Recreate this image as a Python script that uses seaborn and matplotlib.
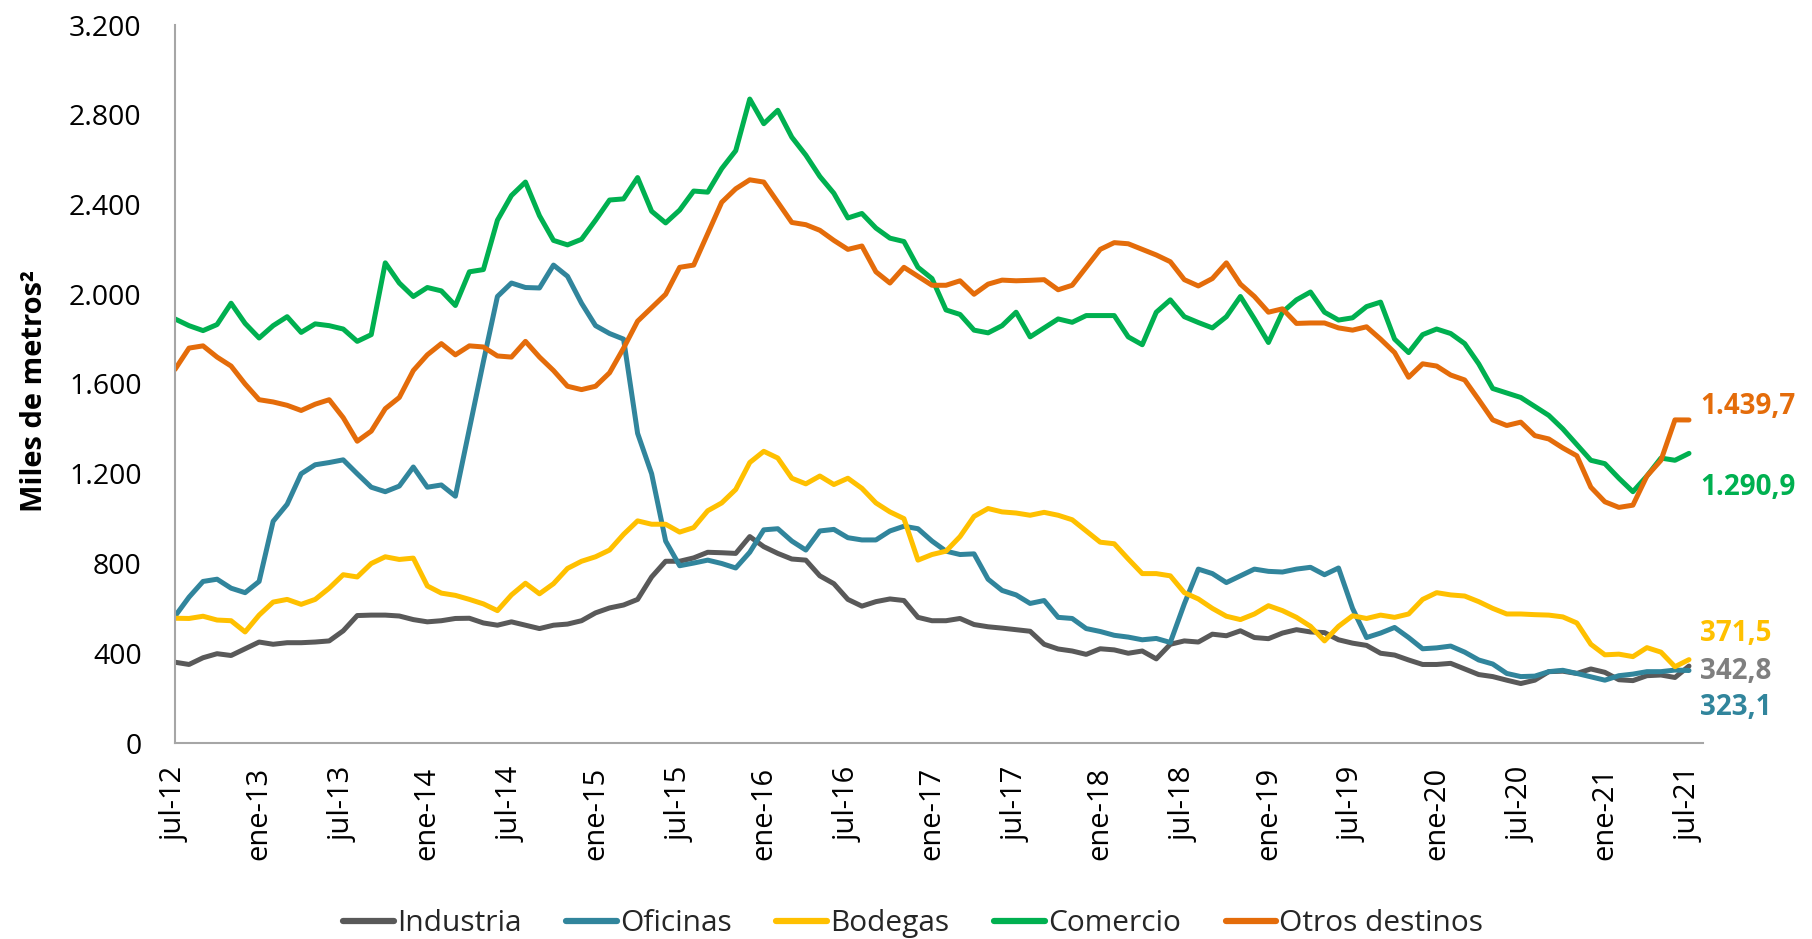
import numpy as np
import pandas as pd
import matplotlib
matplotlib.use("Agg")
import matplotlib.pyplot as plt
from matplotlib.ticker import FuncFormatter
import seaborn as sns

# meses: jul-12 ... jul-21 (109 meses)
tick_labels = ['jul-12', 'ene-13', 'jul-13', 'ene-14', 'jul-14', 'ene-15', 'jul-15',
               'ene-16', 'jul-16', 'ene-17', 'jul-17', 'ene-18', 'jul-18', 'ene-19',
               'jul-19', 'ene-20', 'jul-20', 'ene-21', 'jul-21']

industria = [360, 350, 380, 398, 390, 420, 450, 440, 447, 447, 450, 455, 500, 568, 570, 570,
             566, 550, 540, 545, 555, 556, 535, 525, 540, 525, 510, 525, 530, 545, 580, 602,
             615, 640, 740, 810, 810, 825, 850, 848, 845, 920, 875, 845, 820, 815, 745, 710,
             640, 610, 630, 642, 635, 560, 545, 545, 555, 528, 518, 512, 505, 498, 440, 419,
             410, 395, 420, 415, 400, 410, 375, 440, 455, 450, 485, 478, 500, 470, 465, 490,
             505, 495, 492, 460, 445, 435, 400, 392, 370, 350, 350, 355, 330, 305, 296, 280,
             265, 280, 318, 320, 310, 330, 315, 282, 278, 300, 303, 292, 342.8]

oficinas = [565, 650, 720, 730, 690, 670, 720, 988, 1064, 1200, 1240, 1250, 1262, 1200, 1140,
            1120, 1145, 1230, 1140, 1150, 1100, 1400, 1700, 1990, 2050, 2030, 2028, 2130, 2080,
            1960, 1860, 1825, 1800, 1380, 1200, 900, 790, 802, 815, 800, 780, 850, 950, 955,
            900, 860, 945, 952, 915, 905, 905, 945, 966, 955, 900, 855, 840, 843, 730, 680,
            660, 622, 635, 560, 555, 510, 497, 480, 472, 460, 466, 448, 620, 775, 755, 715,
            745, 775, 765, 762, 775, 783, 750, 780, 600, 470, 490, 515, 470, 420, 424, 432,
            405, 370, 352, 310, 296, 298, 318, 324, 310, 295, 280, 300, 307, 318, 318, 325,
            323.1]

bodegas = [556, 555, 565, 548, 545, 495, 570, 628, 640, 618, 640, 690, 750, 740, 800, 830,
           818, 824, 700, 668, 658, 640, 620, 590, 660, 712, 665, 710, 778, 810, 830, 860,
           930, 990, 975, 975, 940, 960, 1035, 1070, 1130, 1250, 1300, 1270, 1180, 1155, 1190,
           1152, 1180, 1135, 1070, 1030, 1000, 815, 840, 855, 920, 1010, 1045, 1030, 1025,
           1015, 1028, 1015, 995, 945, 895, 888, 820, 755, 755, 745, 670, 642, 600, 565, 550,
           575, 612, 590, 560, 520, 455, 520, 567, 555, 570, 560, 575, 640, 670, 660, 655,
           630, 600, 575, 575, 572, 570, 562, 535, 440, 393, 396, 385, 425, 405, 340, 371.5]

comercio = [1890, 1860, 1838, 1865, 1960, 1870, 1805, 1860, 1900, 1830, 1868, 1860, 1845, 1790,
            1820, 2140, 2050, 1990, 2030, 2015, 1950, 2100, 2110, 2330, 2440, 2500, 2350, 2240,
            2220, 2245, 2330, 2420, 2425, 2520, 2370, 2318, 2375, 2460, 2455, 2560, 2640, 2870,
            2760, 2820, 2700, 2620, 2525, 2450, 2340, 2360, 2295, 2250, 2235, 2120, 2070, 1930,
            1910, 1840, 1828, 1860, 1920, 1810, 1850, 1890, 1875, 1905, 1905, 1905, 1810, 1775,
            1920, 1975, 1900, 1874, 1850, 1900, 1990, 1890, 1785, 1920, 1975, 2010, 1920, 1885,
            1895, 1945, 1965, 1800, 1740, 1820, 1845, 1825, 1780, 1690, 1580, 1560, 1540, 1500,
            1460, 1400, 1330, 1260, 1245, 1180, 1120, 1190, 1270, 1260, 1290.9]

otros = [1665, 1760, 1770, 1720, 1680, 1600, 1530, 1520, 1505, 1482, 1510, 1530, 1450, 1345,
         1390, 1490, 1540, 1660, 1730, 1780, 1730, 1770, 1765, 1725, 1720, 1790, 1720, 1660,
         1590, 1575, 1590, 1650, 1760, 1880, 1940, 2000, 2120, 2130, 2270, 2410, 2470, 2510,
         2500, 2410, 2320, 2310, 2285, 2240, 2200, 2215, 2100, 2050, 2120, 2080, 2040, 2040,
         2060, 2000, 2045, 2063, 2060, 2062, 2065, 2020, 2040, 2120, 2200, 2230, 2225, 2200,
         2175, 2145, 2065, 2037, 2070, 2140, 2045, 1990, 1920, 1935, 1870, 1872, 1872, 1850,
         1840, 1855, 1800, 1740, 1630, 1690, 1680, 1640, 1618, 1530, 1440, 1415, 1430, 1370,
         1355, 1315, 1280, 1140, 1075, 1050, 1060, 1190, 1260, 1440, 1439.7]

series = ['Industria', 'Oficinas', 'Bodegas', 'Comercio', 'Otros destinos']
colores = ['#595959', '#31859C', '#FFC000', '#00B050', '#E46C0A']
etiqueta_color = ['#7F7F7F', '#31859C', '#FFC000', '#00B050', '#E46C0A']
etiqueta_y = [320, 160, 490, 1139, 1500]  # posicion vertical de los rotulos finales

valores = [industria, oficinas, bodegas, comercio, otros]
meses = np.arange(len(industria))

df = pd.concat([pd.DataFrame({'mes': meses, 'valor': v, 'serie': s})
                for s, v in zip(series, valores)], ignore_index=True)

sns.set_style('white')
plt.rcParams['font.family'] = ['Open Sans', 'DejaVu Sans']

fig = plt.figure(figsize=(18.12, 9.39), dpi=100)
ax = fig.add_axes([175 / 1812, 1 - 743 / 939, (1703 - 175) / 1812, (743 - 25) / 939])

sns.lineplot(data=df, x='mes', y='valor', hue='serie', hue_order=series,
             palette=dict(zip(series, colores)), linewidth=3.6, ax=ax, legend=True)
for ln in ax.lines:
    ln.set_solid_joinstyle('round')
    ln.set_solid_capstyle('round')

ax.set_xlim(0, 109)
ax.set_ylim(0, 3200)
ax.set_yticks(range(0, 3201, 400))
ax.yaxis.set_major_formatter(FuncFormatter(lambda v, p: f"{int(v):,}".replace(',', '.')))
ax.set_xticks(range(0, 109, 6))
ax.set_xticklabels(tick_labels, rotation=90)

for lado in ['top', 'right']:
    ax.spines[lado].set_visible(False)
for lado in ['left', 'bottom']:
    ax.spines[lado].set_color('#A6A6A6')
    ax.spines[lado].set_linewidth(1.5)
ax.tick_params(axis='both', which='major', direction='out', length=8, width=1.5,
               color='#A6A6A6', labelcolor='#000000')
ax.tick_params(axis='y', pad=16, labelsize=20.5)
ax.tick_params(axis='x', pad=9, labelsize=21)

ax.set_xlabel('')
ax.set_ylabel('Miles de metros²', fontsize=21, fontweight='bold', color='#000000')
ax.yaxis.set_label_coords(-0.0825, 0.49)

# rotulos del ultimo valor
for v, c, yl in zip(valores, etiqueta_color, etiqueta_y):
    txt = f"{v[-1]:,.1f}".replace(',', 'X').replace('.', ',').replace('X', '.')
    ax.text(108.8, yl, txt, color=c, fontsize=20, fontweight='bold',
            va='center', ha='left', clip_on=False)

handles, labels = ax.get_legend_handles_labels()
ax.legend_.remove()
for h in handles:
    h.set_linewidth(4.5)
fig.legend(handles, labels, loc='center', bbox_to_anchor=(0.504, 0.016), ncol=5,
           frameon=False, fontsize=21.5, handlelength=1.7, handletextpad=0.1,
           columnspacing=1.5)

fig.savefig('out.png', dpi=100)
